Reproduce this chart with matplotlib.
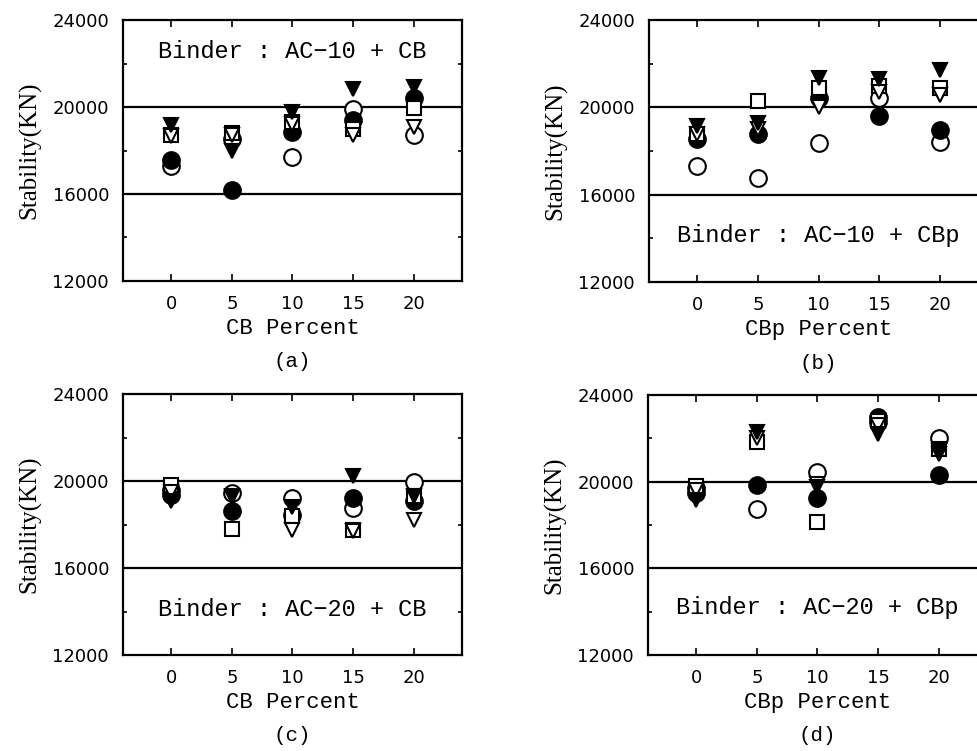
import matplotlib
matplotlib.use('Agg')
from matplotlib import pyplot as plt
from matplotlib.ticker import MultipleLocator

percent = [0, 5, 10, 15, 20]

# (a) AC-10 + CB
a_open_circle = [17300, 18550, 17700, 19900, 18700]
a_fill_circle = [17550, 16200, 18850, 19400, 20400]
a_open_square = [18700, 18800, 19300, 19000, 19950]
a_open_tri = [18650, 18700, 19200, 18700, 19100]
a_fill_tri = [19150, 18000, 19750, 20850, 20900]

# (b) AC-10 + CBp
b_open_circle = [17300, 16750, 18350, 20450, 18400]
b_fill_circle = [18550, 18800, 20450, 19600, 18950]
b_open_square = [18800, 20300, 20900, 21000, 20900]
b_open_tri = [18800, 19000, 20000, 20700, 20550]
b_fill_tri = [19150, 19300, 21350, 21300, 21700]

# (c) AC-20 + CB
c_open_circle = [19600, 19450, 19200, 18750, 19950]
c_fill_circle = [19350, 18600, 18450, 19200, 19100]
c_open_square = [19800, 17800, 18400, 17750, 19300]
c_open_tri = [19500, 19300, 17750, 17700, 18200]
c_fill_tri = [19100, 19250, 18800, 20250, 19300]

# (d) AC-20 + CBp
d_open_circle = [19700, 18750, 20450, 22750, 22000]
d_fill_circle = [19500, 19850, 19250, 23000, 20300]
d_open_square = [19800, 21850, 18150, 22800, 21500]
d_open_tri = [19600, 22000, 19900, 22600, 21300]
d_fill_tri = [19150, 22300, 19750, 22200, 21400]

panels = [
    ('CB Percent', '(a)', 'Binder : AC\u221210 + CB', 22550,
     [a_open_circle, a_fill_circle, a_open_square, a_open_tri, a_fill_tri]),
    ('CBp Percent', '(b)', 'Binder : AC\u221210 + CBp', 14150,
     [b_open_circle, b_fill_circle, b_open_square, b_open_tri, b_fill_tri]),
    ('CB Percent', '(c)', 'Binder : AC\u221220 + CB', 14100,
     [c_open_circle, c_fill_circle, c_open_square, c_open_tri, c_fill_tri]),
    ('CBp Percent', '(d)', 'Binder : AC\u221220 + CBp', 14200,
     [d_open_circle, d_fill_circle, d_open_square, d_open_tri, d_fill_tri]),
]

# marker, face colour, size for each series
styles = [('o', 'white', 12), ('o', 'black', 12), ('s', 'white', 9.5),
          ('v', 'white', 9.5), ('v', 'black', 10)]

W, H = 978, 751
boxes = [(123, 20, 339, 261), (649, 20, 339, 262),
         (123, 394, 339, 261), (648, 395, 339, 260)]

fig = plt.figure(figsize=(W / 100, H / 100), dpi=100)
mono = 'Liberation Mono'

for (xl, tag, note, note_y, series), (l, t, w, h) in zip(panels, boxes):
    ax = fig.add_axes([l / W, 1 - (t + h) / H, w / W, h / H])
    ax.set_xlim(-4, 24)
    ax.set_ylim(12000, 24000)
    ax.axhline(20000, color='black', lw=1.6, zorder=1)
    ax.axhline(16000, color='black', lw=1.6, zorder=1)
    for vals, (m, fc, ms) in zip(series, styles):
        ax.plot(percent, vals, linestyle='none', marker=m, markersize=ms,
                markerfacecolor=fc, markeredgecolor='black', markeredgewidth=1.5,
                zorder=3)
    ax.set_xticks(percent)
    ax.yaxis.set_major_locator(MultipleLocator(4000))
    ax.yaxis.set_minor_locator(MultipleLocator(2000))
    ax.tick_params(axis='both', which='both', direction='in', top=True,
                   right=True, width=1.2)
    ax.tick_params(axis='both', which='major', length=5, labelsize=13, pad=10)
    ax.tick_params(axis='y', which='minor', length=3)
    for lab in ax.get_xticklabels() + ax.get_yticklabels():
        lab.set_family('DejaVu Sans')
    for sp in ax.spines.values():
        sp.set_linewidth(1.6)
    ax.set_ylabel('Stability(KN)', family='Liberation Serif', fontsize=18,
                  labelpad=8)
    ax.set_xlabel(xl, family=mono, fontsize=16, labelpad=4)
    ax.text(10, note_y, note, family=mono, fontsize=17, ha='center',
            va='center')
    ax.text(10, -0.31, tag, transform=ax.get_xaxis_transform(), family=mono,
            fontsize=15, ha='center', va='center')

fig.savefig('out.png', dpi=100)
